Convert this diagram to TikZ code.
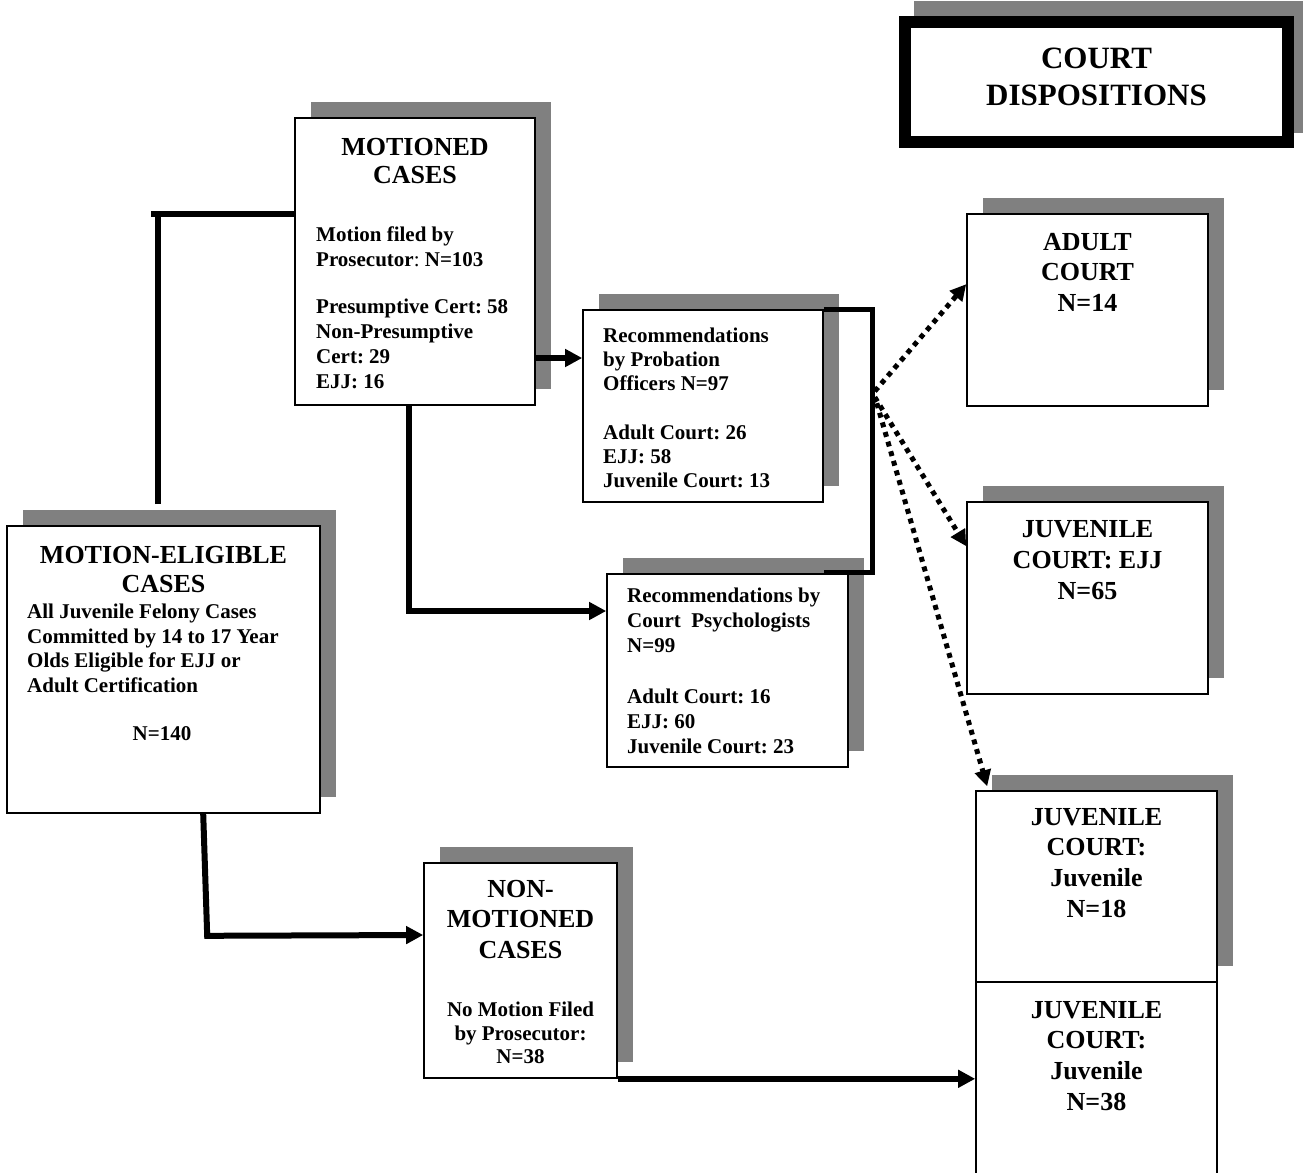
\documentclass[tikz,border=0pt]{standalone}
\usepackage{fontspec}
\setmainfont{Liberation Serif}
\usetikzlibrary{arrows.meta}
\definecolor{shd}{HTML}{808080}
\frenchspacing
\tikzset{
  boxst/.style={draw, line width=1.6pt, fill=white, inner sep=0pt},
  ttl/.style={font=\bfseries\fontsize{26}{29}\selectfont, align=center, anchor=north, inner sep=0pt},
  sml/.style={font=\bfseries\fontsize{21}{24.5}\selectfont, align=left, anchor=north west, inner sep=0pt},
  smc/.style={font=\bfseries\fontsize{21}{24.5}\selectfont, align=center, anchor=north, inner sep=0pt},
  conn/.style={line width=6pt},
  arr/.style={line width=6pt, -{Triangle[length=17pt,width=17pt]}},
  brk/.style={line width=5pt},
  dotarr/.style={line width=5pt, dash pattern=on 5pt off 5pt, -{Triangle[length=16pt,width=16pt]}}
}
\newcommand\mkshbox[5]{%
  \fill[shd] ({#2+16},{#3-16}) rectangle ({#4+16},{#5-16});
  \node[boxst, minimum width={#4-#2}, minimum height={#5-#3}] (#1) at ({(#2+#4)/2},{(#3+#5)/2}) {};
}
\begin{document}
\begin{tikzpicture}[x=1pt,y=-1pt]
\frenchspacing
\clip (0,0) rectangle (1307,1173);
\fill[white] (0,0) rectangle (1307,1173);

% title box
\fill[shd] (914,1) rectangle (1303,133);
\node[draw, line width=12pt, fill=white, inner sep=0pt, minimum width=383, minimum height=120] (disp) at (1096.5,82) {};
\node[ttl, font=\bfseries\fontsize{31}{37}\selectfont] (dispT) at (1096.5,47.5) {COURT\\DISPOSITIONS};

% boxes
\mkshbox{mot}{295}{118}{535}{405}
\mkshbox{prob}{583}{310}{823}{502}
\mkshbox{psy}{607}{574}{848}{767}
\mkshbox{me}{7}{526}{320}{813}
\mkshbox{non}{424}{863}{617}{1078}
\mkshbox{adult}{967}{214}{1208}{406}
\mkshbox{ejj}{967}{502}{1208}{694}
\mkshbox{juv}{976}{791}{1217}{982}
\node[boxst, minimum width=241, minimum height=210] (juvb) at (1096.5,1087) {};

% texts
\node[ttl, font=\bfseries\fontsize{26}{28}\selectfont] (motT) at (415,138) {MOTIONED\\CASES};
\node[sml, font=\bfseries\fontsize{21}{25}\selectfont] (motS) at (316,226.7)
  {Motion filed by\\Prosecutor{\mdseries:} N=103\\[22pt]Presumptive Cert: 58\\Non-Presumptive\\Cert: 29\\EJJ: 16};
\node[sml, font=\bfseries\fontsize{21}{24}\selectfont] (probT) at (603,327.5)
  {Recommendations\\by Probation\\Officers N=97\\[25pt]Adult Court: 26\\EJJ: 58\\Juvenile Court: 13};
\node[sml, font=\bfseries\fontsize{21}{25}\selectfont] (psyT) at (627,587.4)
  {Recommendations by\\Court\ \ Psychologists\\N=99\\[26.5pt]Adult Court: 16\\EJJ: 60\\Juvenile Court: 23};
\node[ttl] (meT) at (163.5,546) {MOTION-ELIGIBLE\\CASES};
\node[sml, font=\bfseries\fontsize{21}{24.7}\selectfont] (meS) at (27,603.7)
  {All Juvenile Felony Cases\\Committed by 14 to 17 Year\\Olds Eligible for EJJ or\\Adult Certification};
\node[smc] (meN) at (162,726.2) {N=140};
\node[ttl, font=\bfseries\fontsize{26}{30.5}\selectfont] (nonT) at (520.5,880) {NON-\\MOTIONED\\CASES};
\node[smc, font=\bfseries\fontsize{21}{23.5}\selectfont] (nonS) at (520.5,1002) {No Motion Filed\\by Prosecutor:\\N=38};
\node[ttl, font=\bfseries\fontsize{26}{30.5}\selectfont] (adultT) at (1087.5,233) {ADULT\\COURT\\N=14};
\node[ttl, font=\bfseries\fontsize{26}{31}\selectfont] (ejjT) at (1087.5,520) {JUVENILE\\COURT: EJJ\\N=65};
\node[ttl, font=\bfseries\fontsize{26}{30.7}\selectfont] (juvT) at (1096.5,808) {JUVENILE\\COURT:\\Juvenile\\N=18};
\node[ttl, font=\bfseries\fontsize{26}{30.7}\selectfont] (juvbT) at (1096.5,1001) {JUVENILE\\COURT:\\Juvenile\\N=38};

% connectors
\coordinate (b1) at ([xshift=152pt, yshift=21pt]me.north west);
\coordinate (b2) at ([yshift=47.5pt]mot.west);
\coordinate (b3) at (151,214);
\draw[conn] (b1) -- (b1 |- b2);
\draw[conn] (b3) -- (b2);

\coordinate (a1) at ([yshift=-96.5pt]mot.east);
\draw[arr] (a1) -- (a1 -| prob.west);

\coordinate (a2) at ([xshift=115pt]mot.south west);
\coordinate (a2b) at ([yshift=59.5pt]psy.west);
\draw[arr] (a2) |- (a2b);

\draw[brk] (prob.north east) -- ++(49,0) -- ++(0,263) -- ++(-49,0);
\coordinate (hub) at ([xshift=51pt, yshift=-82pt]prob.north east);
\draw[dotarr] (hub) -- ([yshift=-71pt]adult.north west);
\draw[dotarr] ([yshift=-6pt]hub) -- ([yshift=-45pt]ejj.north west);
\draw[dotarr] ([xshift=2pt,yshift=-12pt]hub) -- ([xshift=12pt,yshift=4pt]juv.north west);

\coordinate (c1) at ([xshift=197pt]me.south west);
\coordinate (c3) at ([yshift=35.5pt]non.west);
\draw[arr] (c1) -- ++(4,122) -- (c3);

\draw[arr] (non.south east) -- (non.south east -| juvb.west);
\end{tikzpicture}
\end{document}
